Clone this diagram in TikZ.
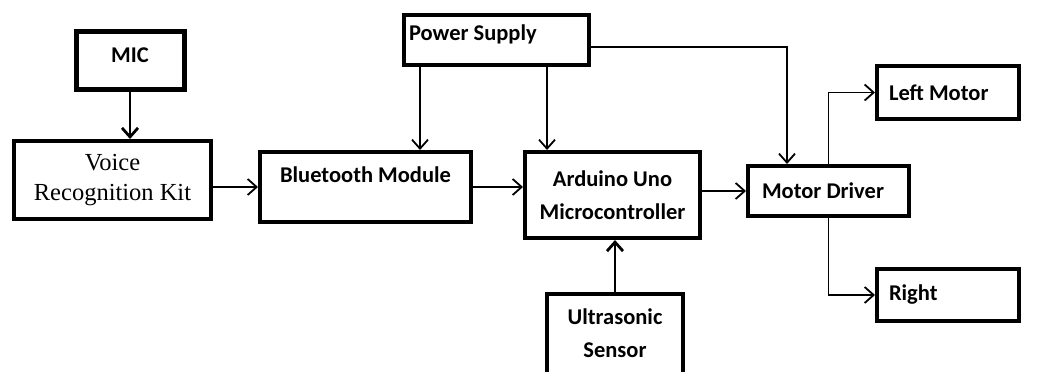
\documentclass[tikz,border=0pt]{standalone}
\usepackage{fontspec}
\setmainfont{Carlito}
\newfontfamily\serifvr{Liberation Serif}
\usepackage{tikz}
\usetikzlibrary{arrows.meta}

\begin{document}
\begin{tikzpicture}[x=1pt,y=-1pt,
  box/.style={draw,line width=4pt,inner sep=0pt,align=center,
    font=\fontsize{22.5}{33}\selectfont\bfseries},
  lbox/.style={box,align=flush left},
  arr/.style={-{Straight Barb[length=9pt,width=16pt]},line width=1.8pt},
  tarr/.style={arr,line width=2.8pt}]

  \useasboundingbox (0,0) rectangle (1045,372);

  %% blocks
  \node[box,line width=5pt,minimum width=108pt,minimum height=58pt] (mic) at (130,60) {MIC\\[-24pt]~};
  \node[box,minimum width=197pt,minimum height=78pt,
    font=\fontsize{24.5}{30}\selectfont\serifvr] (vrk) at (112.5,180) {Voice\\Recognition Kit};
  \node[box,minimum width=211pt,minimum height=70pt] (bt) at (365.5,187) {Bluetooth Module\\[-9pt]~};
  \node[lbox,minimum width=185pt,minimum height=50pt,text width=175pt] (ps) at (496.5,40) {Power Supply\\[-19pt]~};
  \node[box,minimum width=175pt,minimum height=86pt] (ard) at (612.5,195) {Arduino Uno\\Microcontroller};
  \node[lbox,minimum width=161pt,minimum height=50pt,text width=133pt] (md) at (828.5,191) {Motor Driver};
  \node[lbox,minimum width=142pt,minimum height=53pt,text width=118pt] (lm) at (948,92.5) {Left Motor};
  \node[lbox,minimum width=142pt,minimum height=52pt,text width=118pt] (rt) at (948,295) {Right};
  \node[box,minimum width=136pt,minimum height=120pt] (us) at (615,354) {Ultrasonic\\Sensor\\[8pt]~};

  % attach points off the centre lines
  \coordinate (pbt) at (420,67);
  \coordinate (pard) at (547,67);
  \coordinate (pmd) at (591,47);
  \coordinate (mdin) at (787,164);

  %% connectors
  \draw[tarr] (mic.south) -- (mic.south |- vrk.north);
  \draw[arr] (vrk.east |- bt.west) -- (bt.west);
  \draw[arr] (bt.east) -- (bt.east -| ard.west);
  \draw[arr] (ard.east |- md.west) -- (md.west);
  \draw[arr] (pbt) -- (pbt |- bt.north);
  \draw[arr] (pard) -- (pard |- ard.north);
  \draw[arr] (pmd) -| (mdin);
  \draw[arr] (md.north) |- (lm.west);
  \draw[arr] (md.south) |- (rt.west);
  \draw[tarr] (us.north) -- (us.north |- ard.south);

\end{tikzpicture}
\end{document}
